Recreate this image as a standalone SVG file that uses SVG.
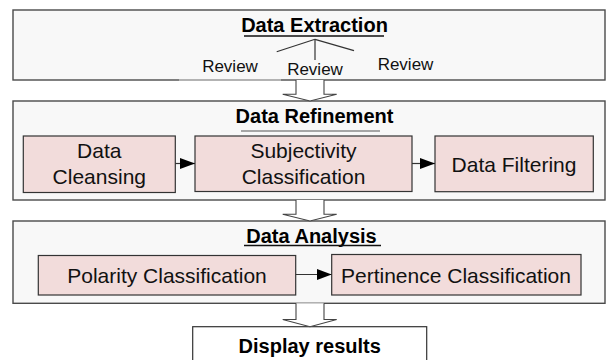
<svg xmlns="http://www.w3.org/2000/svg" width="606" height="360" viewBox="0 0 606 360">
<style>
.stage{fill:#f8f8f8;stroke:#4a4a4a;stroke-width:1.4}
.step{fill:#f2dcdb;stroke:#333;stroke-width:1.2}
.disp{fill:#ffffff;stroke:#333;stroke-width:1.2}
.title{font-family:"Liberation Sans",Arial,sans-serif;font-weight:bold;font-size:20px;fill:#000;text-anchor:middle}
.lbl{font-family:"Liberation Sans",Arial,sans-serif;font-size:21px;fill:#111;text-anchor:middle}
.rev{font-family:"Liberation Sans",Arial,sans-serif;font-size:17px;fill:#111;text-anchor:middle}
.ul{stroke:#111;stroke-width:1.3}
.conn{stroke:#333;stroke-width:1.2;fill:none}
.block{fill:#fff;stroke:#444;stroke-width:1.1}
</style>
<defs>
<marker id="ah" markerWidth="15" markerHeight="11" refX="15" refY="5.5" orient="auto" markerUnits="userSpaceOnUse">
<path d="M0,0 L15,5.5 L0,11 Z" fill="#000"/>
</marker>
</defs>

<g id="data-extraction">
<rect class="stage" x="13" y="10" width="592" height="70"/>
<line x1="179" y1="80" x2="281" y2="80" stroke="#c4c4c4" stroke-width="1.6"/>
<text class="title" x="314.5" y="31.5">Data Extraction</text>
<line class="ul" x1="244" y1="36" x2="384" y2="36"/>
<g class="conn">
<line x1="315" y1="39.3" x2="276.7" y2="51.7"/>
<line x1="315" y1="39.3" x2="354" y2="50.7"/>
<line x1="315" y1="39.3" x2="315" y2="60"/>
</g>
<text class="rev" x="230" y="71.7">Review</text>
<text class="rev" x="315" y="75">Review</text>
<text class="rev" x="405.5" y="70">Review</text>
</g>

<g id="data-refinement">
<rect class="stage" x="13" y="101" width="592" height="99"/>
<text class="title" x="314.5" y="122.5">Data Refinement</text>
<line x1="241" y1="131" x2="380" y2="131" stroke="#555" stroke-width="1.1"/>
</g>

<g id="data-cleansing">
<rect class="step" x="23.3" y="136" width="152" height="56.5"/>
<text class="lbl" x="99.3" y="158">Data</text>
<text class="lbl" x="99.3" y="184">Cleansing</text>
</g>

<g id="subjectivity-classification">
<rect class="step" x="195" y="136" width="217" height="55.5"/>
<text class="lbl" x="303.5" y="158">Subjectivity</text>
<text class="lbl" x="303.5" y="184">Classification</text>
</g>

<g id="data-filtering">
<rect class="step" x="435" y="136" width="158.3" height="55.7"/>
<text class="lbl" x="514" y="171.5">Data Filtering</text>
</g>

<g id="data-analysis">
<rect class="stage" x="13" y="221" width="592" height="82.3"/>
<text class="title" x="311.5" y="242.5">Data Analysis</text>
<line class="ul" x1="244" y1="245.5" x2="381" y2="245.5"/>
</g>

<g id="polarity-classification">
<rect class="step" x="38.3" y="255.5" width="257.4" height="39.5"/>
<text class="lbl" x="167" y="283">Polarity Classification</text>
</g>

<g id="pertinence-classification">
<rect class="step" x="331.7" y="254.5" width="249.3" height="40.5"/>
<text class="lbl" x="456" y="283">Pertinence Classification</text>
</g>

<g id="display-results">
<rect class="disp" x="192.7" y="326.7" width="234" height="50"/>
<text class="title" x="309.7" y="353.3">Display results</text>
</g>

<g id="connectors">
<polyline class="block" points="296,80 296,94.3 282.7,94.3 310,101 336.7,94.3 324,94.3 324,80"/>
<polyline class="block" points="296,200 296,214.3 282.7,214.3 310,221 336.7,214.3 324,214.3 324,200"/>
<polyline class="block" points="296,303.3 296,319.5 282.7,319.5 310,326.7 336.7,319.5 324,319.5 324,303.3"/>
<line class="conn" x1="175.3" y1="163.5" x2="195" y2="163.5" marker-end="url(#ah)"/>
<line class="conn" x1="412" y1="163.5" x2="435" y2="163.5" marker-end="url(#ah)"/>
<line class="conn" x1="295.7" y1="274.5" x2="331.7" y2="274.5" marker-end="url(#ah)"/>
</g>
</svg>
